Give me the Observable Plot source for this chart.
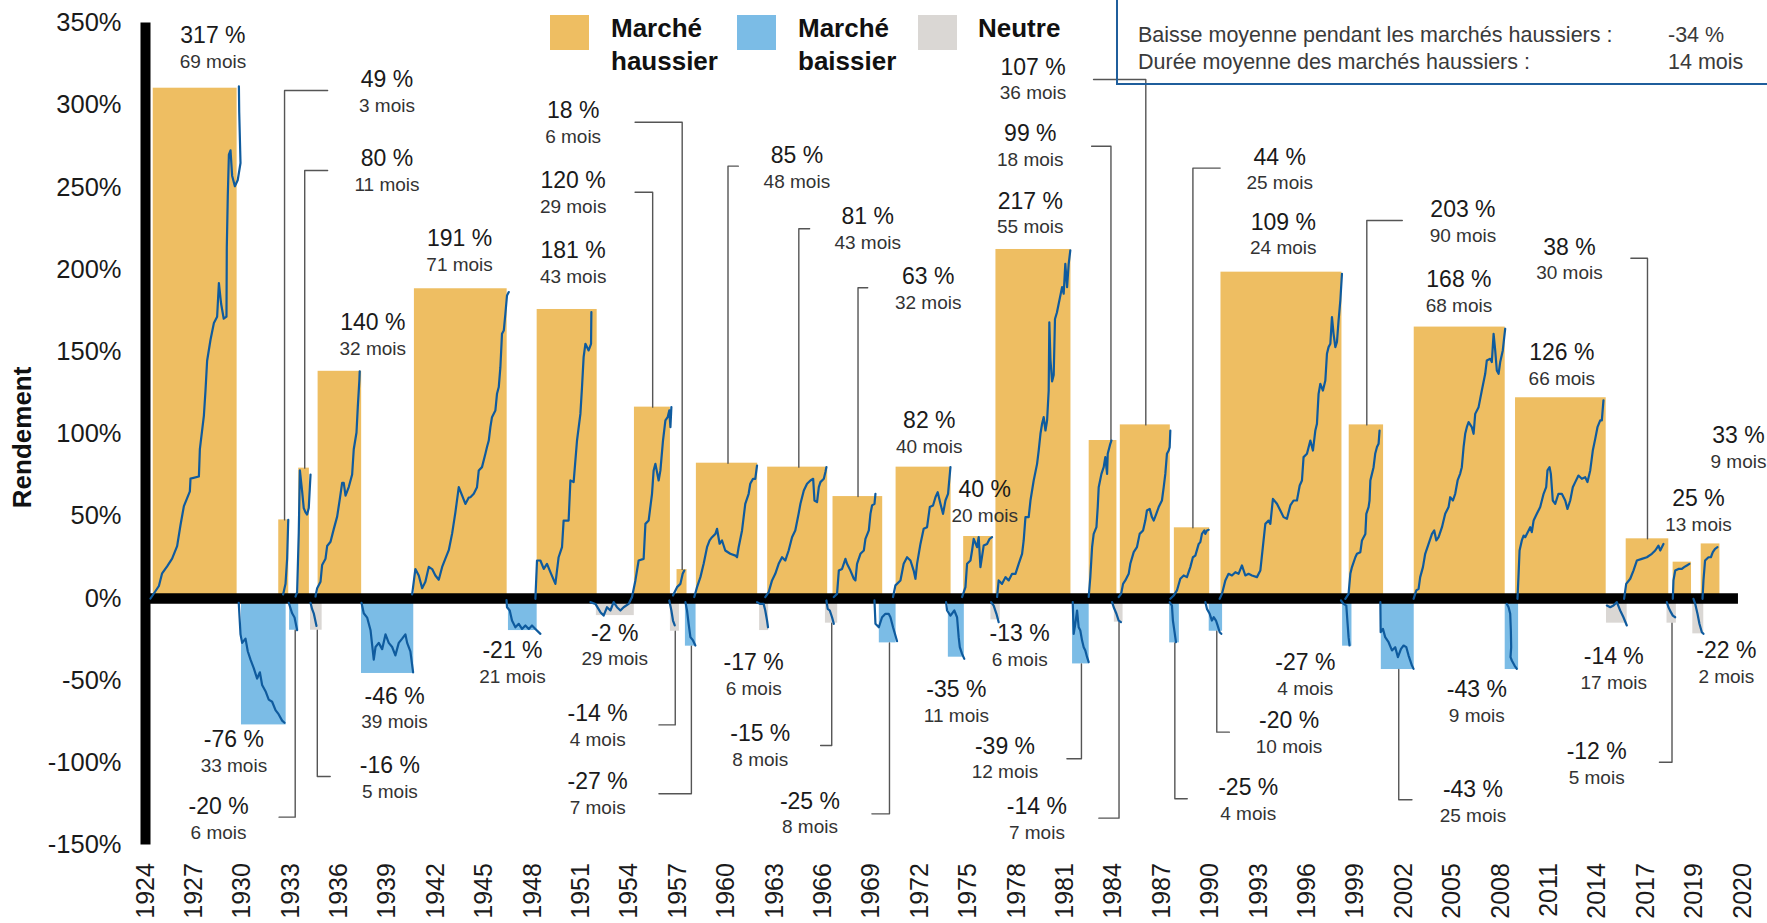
<!DOCTYPE html>
<html><head><meta charset="utf-8">
<script src="https://cdn.jsdelivr.net/npm/d3@7"></script>
<script src="https://cdn.jsdelivr.net/npm/@observablehq/plot@0.6"></script>
<style>
html,body{margin:0;padding:0;background:#fff;}
#wrap{position:relative;width:1767px;height:923px;overflow:hidden;font-family:"Liberation Sans",Arial,sans-serif;}
#wrap svg{position:absolute;left:0;top:0;}
.sw{position:absolute;width:39px;height:35px;top:15px;}
.lg{position:absolute;font-weight:bold;font-size:26px;line-height:33px;color:#111;top:12px;white-space:nowrap;}
#info{position:absolute;left:1116px;top:-4px;width:700px;height:87px;border-left:2.5px solid #1F5E9C;border-bottom:2.5px solid #1F5E9C;}
.it{position:absolute;font-size:21.5px;color:#3a3a3a;white-space:nowrap;line-height:24px;}
</style></head>
<body><div id="wrap"></div>
<script>
// ---------- data ----------
const xTickLabels = ["1924","1927","1930","1933","1936","1939","1942","1945","1948","1951","1954","1957","1960","1963","1966","1969","1972","1975","1978","1981","1984","1987","1990","1993","1996","1999","2002","2005","2008","2011","2014","2017","2019","2020"];
const yTicks = [-150,-100,-50,0,50,100,150,200,250,300,350];

// periods (axis position in years, value in %)
const periodType = ["h","b","h","b","h","n","h","b","h","b","h","n","h","n","h","b","h","n","h","n","h","b","h","b","h","n","h","b","h","n","h","b","h","b","h","b","h","b","h","b","h","n","h","n","h","n","h"];
const periodStart = [1924.48,1929.95,1932.26,1932.93,1933.50,1934.23,1934.70,1937.39,1940.67,1946.50,1948.28,1951.95,1954.31,1956.54,1956.95,1957.47,1958.15,1962.07,1962.57,1966.15,1966.62,1969.49,1970.53,1973.77,1974.72,1976.41,1976.72,1981.47,1982.50,1984.06,1984.43,1987.49,1987.78,1989.94,1990.67,1998.21,1998.62,2000.61,2002.65,2008.29,2008.93,2014.57,2015.79,2018.32,2018.70,2019.92,2020.44];
const periodEnd = [1929.68,1932.72,1932.88,1933.50,1934.16,1934.95,1937.40,1940.63,1946.42,1948.28,1952.00,1954.30,1956.54,1957.10,1957.57,1958.13,1961.95,1962.63,1966.29,1966.91,1969.70,1970.53,1973.94,1974.76,1976.54,1976.99,1981.37,1982.50,1984.22,1984.60,1987.53,1988.09,1989.97,1990.77,1998.17,1998.79,2000.75,2002.65,2008.29,2009.12,2014.55,2015.85,2018.43,2018.90,2019.84,2020.60,2021.60];
const periodValue = [310.4,-76.9,47.8,-19.3,79.3,-19.3,138.2,-45.6,188.4,-19.5,175.8,-10.4,116.4,-19.9,17.6,-29.0,82.3,-19.5,79.9,-15.0,62.0,-27.0,79.9,-35.7,37.7,-13.0,212.3,-39.8,96.1,-14.4,105.6,-27.0,43.0,-19.9,198.5,-29.0,105.6,-43.2,165.1,-43.2,122.1,-15.0,36.3,-15.0,22.1,-21.5,33.2];

// cumulative return paths inside each period [axis year, %]
const paths = [
 [[1924.31,0],[1924.83,7.6],[1925.03,15.3],[1925.34,19.6],[1925.65,24.2],[1925.96,31.9],[1926.17,44.7],[1926.38,56.2],[1926.75,65.2],[1926.79,72.9],[1927.31,74.2],[1927.37,90.8],[1927.62,111.3],[1927.72,126.6],[1927.82,144.6],[1928.03,157.4],[1928.24,167.6],[1928.44,171.4],[1928.55,191.9],[1928.69,179.1],[1928.85,170.2],[1929.02,171.4],[1929.04,213.7],[1929.10,244.4],[1929.17,270.0],[1929.27,272.6],[1929.37,257.2],[1929.54,250.8],[1929.72,254.6],[1929.89,264.9],[1929.81,295.6],[1929.79,311.5]],
 [[1929.78,-2.6],[1929.89,-21.8],[1929.99,-27.0],[1930.20,-24.4],[1930.34,-32.1],[1930.51,-37.2],[1930.71,-42.3],[1930.92,-48.7],[1931.09,-44.9],[1931.23,-52.6],[1931.44,-56.4],[1931.64,-61.5],[1931.85,-62.8],[1932.06,-67.9],[1932.26,-70.5],[1932.47,-74.3],[1932.62,-75.6]],
 [[1932.53,2.5],[1932.68,8.9],[1932.78,24.2],[1932.84,44.7],[1932.85,47.8]],
 [[1932.88,-2.6],[1933.09,-9.0],[1933.24,-11.6],[1933.40,-19.3]],
 [[1933.30,1.2],[1933.40,3.8],[1933.50,39.6],[1933.57,78.0],[1933.71,65.2],[1933.81,55.0],[1933.92,52.4],[1934.02,51.1],[1934.12,55.0],[1934.23,75.4]],
 [[1934.23,-2.6],[1934.33,-6.5],[1934.43,-9.0],[1934.60,-16.7]],
 [[1934.54,1.2],[1934.64,6.3],[1934.85,10.2],[1934.95,20.4],[1935.16,24.2],[1935.26,31.9],[1935.47,34.5],[1935.67,42.2],[1935.88,49.8],[1936.04,60.1],[1936.19,70.3],[1936.29,70.3],[1936.40,62.6],[1936.60,67.8],[1936.81,75.4],[1936.91,90.8],[1937.08,101.0],[1937.16,116.4],[1937.26,133.0],[1937.28,138.2]],
 [[1937.39,-2.6],[1937.53,-9.0],[1937.74,-11.6],[1937.95,-19.3],[1938.15,-37.2],[1938.26,-29.5],[1938.46,-27.0],[1938.67,-30.8],[1938.88,-21.8],[1939.08,-27.0],[1939.29,-29.5],[1939.49,-34.6],[1939.70,-27.0],[1939.91,-24.4],[1940.11,-21.8],[1940.22,-27.0],[1940.42,-32.1],[1940.59,-44.9]],
 [[1940.53,2.5],[1940.73,17.9],[1940.94,14.0],[1941.15,6.3],[1941.35,10.2],[1941.56,19.2],[1941.77,17.9],[1941.97,14.0],[1942.18,11.4],[1942.39,19.2],[1942.59,24.2],[1942.80,29.4],[1943.01,39.6],[1943.21,52.4],[1943.42,67.8],[1943.63,62.6],[1943.83,57.5],[1944.04,61.4],[1944.14,61.6],[1944.35,63.7],[1944.55,67.7],[1944.66,77.9],[1944.86,79.9],[1945.07,88.0],[1945.17,92.1],[1945.28,96.1],[1945.38,104.2],[1945.48,110.3],[1945.69,114.4],[1945.79,124.5],[1945.90,128.6],[1946.00,140.7],[1946.10,161.0],[1946.21,163.0],[1946.31,173.2],[1946.41,184.3],[1946.52,186.4]],
 [[1946.38,-1.0],[1946.41,-5.3],[1946.58,-7.3],[1946.72,-13.4],[1946.93,-17.5],[1947.14,-15.4],[1947.34,-18.5],[1947.55,-16.4],[1947.76,-18.5],[1947.96,-16.4],[1948.17,-18.5],[1948.48,-21.5]],
 [[1948.17,-0.2],[1948.27,23.1],[1948.48,23.1],[1948.69,18.0],[1948.89,21.1],[1949.10,16.0],[1949.41,8.9],[1949.61,25.1],[1949.82,31.2],[1949.92,47.4],[1950.23,47.4],[1950.34,71.8],[1950.54,70.8],[1950.75,96.1],[1950.96,112.3],[1951.06,128.6],[1951.16,146.8],[1951.27,154.9],[1951.47,150.9],[1951.62,154.9],[1951.64,174.2]],
 [[1951.58,-2.2],[1951.89,-3.3],[1952.20,-8.3],[1952.40,-10.4],[1952.61,-5.3],[1952.82,-7.3],[1953.02,-2.2],[1953.23,-5.3],[1953.44,-7.3],[1953.64,-5.3],[1953.95,-3.3],[1954.16,0.9]],
 [[1954.16,0.9],[1954.37,11.0],[1954.57,23.1],[1954.88,24.1],[1954.99,45.4],[1955.19,47.4],[1955.40,63.7],[1955.50,77.9],[1955.61,81.9],[1955.81,71.8],[1955.92,77.9],[1956.08,96.1],[1956.23,108.3],[1956.37,110.3],[1956.47,114.4],[1956.54,104.2],[1956.60,116.4]],
 [[1956.47,-1.2],[1956.60,-7.3],[1956.70,-13.4],[1956.81,-16.4]],
 [[1956.70,1.8],[1956.95,6.9],[1957.16,8.9],[1957.30,15.0],[1957.40,17.0]],
 [[1957.47,-2.2],[1957.57,-7.3],[1957.67,-15.4],[1957.78,-23.5],[1957.94,-25.5],[1958.09,-28.6]],
 [[1958.02,0.9],[1958.19,6.9],[1958.40,13.0],[1958.60,21.1],[1958.81,31.2],[1958.97,35.3],[1959.12,37.3],[1959.33,39.3],[1959.43,42.4],[1959.59,33.3],[1959.74,35.3],[1959.94,29.2],[1960.25,27.2],[1960.57,26.1],[1960.67,25.1],[1960.77,31.2],[1960.98,41.4],[1961.18,57.6],[1961.39,63.7],[1961.49,69.8],[1961.66,72.8],[1961.80,72.8],[1961.91,80.9]],
 [[1961.91,-2.2],[1962.11,-3.3],[1962.32,-3.3],[1962.42,-7.3],[1962.53,-13.4],[1962.59,-17.5]],
 [[1962.42,0.9],[1962.63,3.9],[1962.84,11.0],[1963.04,15.0],[1963.25,21.1],[1963.46,25.1],[1963.66,23.1],[1963.87,29.2],[1964.08,37.3],[1964.28,41.4],[1964.49,51.7],[1964.60,57.6],[1964.81,65.7],[1965.01,69.8],[1965.22,71.8],[1965.39,72.8],[1965.47,59.6],[1965.63,58.6],[1965.74,67.7],[1965.84,70.8],[1966.05,72.8],[1966.15,76.9],[1966.21,79.9]],
 [[1966.21,-1.2],[1966.29,-6.3],[1966.42,-7.3],[1966.56,-11.4],[1966.67,-15.4]],
 [[1966.67,0.9],[1966.87,2.8],[1966.98,17.0],[1967.18,18.0],[1967.39,24.1],[1967.49,21.1],[1967.70,17.0],[1967.91,12.0],[1968.01,11.0],[1968.11,21.1],[1968.32,27.2],[1968.53,29.2],[1968.63,36.3],[1968.84,41.4],[1968.94,51.5],[1969.04,56.6],[1969.19,57.6],[1969.25,63.7]],
 [[1969.19,-1.2],[1969.25,-15.4],[1969.46,-17.5],[1969.66,-11.4],[1969.87,-9.3],[1970.07,-9.3],[1970.18,-11.4],[1970.34,-17.5],[1970.49,-22.5],[1970.59,-26.0]],
 [[1970.34,0.9],[1970.49,8.0],[1970.80,11.0],[1971.00,21.1],[1971.21,25.1],[1971.42,23.1],[1971.62,17.0],[1971.73,12.0],[1971.83,21.1],[1972.04,33.2],[1972.24,42.4],[1972.45,43.4],[1972.62,55.6],[1972.82,56.6],[1972.97,61.6],[1973.11,64.7],[1973.28,57.6],[1973.44,51.5],[1973.59,59.6],[1973.75,63.7],[1973.90,79.9]],
 [[1973.63,-2.2],[1973.69,-7.3],[1973.90,-10.4],[1974.14,-7.3],[1974.31,-11.4],[1974.41,-23.5],[1974.48,-29.6],[1974.62,-33.7],[1974.76,-36.7]],
 [[1974.62,0.9],[1974.83,6.9],[1974.93,21.1],[1975.14,23.1],[1975.24,29.2],[1975.34,36.3],[1975.55,31.2],[1975.65,37.3],[1975.76,19.1],[1975.96,32.2],[1976.17,33.2],[1976.33,36.3],[1976.48,37.3]],
 [[1976.42,-2.2],[1976.58,-4.3],[1976.75,-9.3],[1976.89,-14.4]],
 [[1976.79,0.9],[1976.89,11.0],[1977.10,8.9],[1977.31,13.0],[1977.51,11.0],[1977.72,15.0],[1977.93,15.0],[1978.13,21.1],[1978.34,27.2],[1978.44,35.3],[1978.55,49.5],[1978.75,49.5],[1978.86,59.6],[1979.06,71.8],[1979.27,81.9],[1979.37,90.0],[1979.48,100.2],[1979.58,106.3],[1979.68,110.3],[1979.79,102.2],[1979.89,108.3],[1979.99,126.5],[1980.03,168.0],[1980.10,145.0],[1980.20,132.0],[1980.30,136.0],[1980.38,170.0],[1980.50,174.0],[1980.61,179.3],[1980.82,189.4],[1980.92,185.4],[1981.02,203.6],[1981.13,189.4],[1981.23,203.6],[1981.33,211.7]],
 [[1981.48,-2.2],[1981.54,-21.5],[1981.64,-15.4],[1981.75,-7.3],[1981.85,-17.5],[1981.95,-19.5],[1982.06,-25.6],[1982.16,-29.6],[1982.26,-31.6],[1982.37,-35.7],[1982.47,-38.7]],
 [[1982.47,0.9],[1982.57,13.0],[1982.68,31.2],[1982.78,39.3],[1982.95,43.4],[1983.03,55.6],[1983.09,67.7],[1983.26,75.8],[1983.40,79.9],[1983.50,86.0],[1983.61,75.8],[1983.65,88.0],[1983.81,94.1],[1983.88,96.1]],
 [[1983.92,-2.2],[1984.02,-5.3],[1984.19,-9.3],[1984.33,-13.4],[1984.47,-14.4]],
 [[1984.33,0.9],[1984.48,2.8],[1984.60,8.9],[1984.74,11.0],[1984.95,15.0],[1985.05,21.1],[1985.26,28.2],[1985.46,31.2],[1985.63,39.3],[1985.84,41.4],[1985.98,47.4],[1986.08,53.5],[1986.25,54.5],[1986.39,49.5],[1986.50,47.4],[1986.66,51.5],[1986.81,55.6],[1987.01,59.6],[1987.12,67.7],[1987.22,75.8],[1987.32,88.0],[1987.43,90.0],[1987.49,92.1],[1987.53,102.2]],
 [[1987.49,-2.2],[1987.63,-4.3],[1987.69,-13.4],[1987.78,-19.5],[1987.88,-26.6]],
 [[1987.53,-0.2],[1987.74,1.8],[1987.94,4.9],[1988.15,12.0],[1988.36,14.0],[1988.56,13.0],[1988.77,19.1],[1988.93,25.1],[1989.08,26.1],[1989.29,33.2],[1989.39,34.3],[1989.49,39.3],[1989.64,41.4],[1989.70,39.3],[1989.80,41.4],[1989.91,41.8]],
 [[1989.70,-2.2],[1989.80,-6.3],[1989.97,-9.3],[1990.11,-13.4],[1990.22,-11.4],[1990.36,-13.4],[1990.46,-16.4],[1990.59,-20.5],[1990.69,-21.5]],
 [[1990.59,-0.2],[1990.73,2.8],[1990.94,11.0],[1991.14,15.0],[1991.35,14.0],[1991.56,16.0],[1991.76,15.0],[1991.97,20.1],[1992.18,14.0],[1992.38,15.0],[1992.59,14.0],[1992.90,13.0],[1993.11,17.0],[1993.31,35.3],[1993.42,45.4],[1993.62,47.4],[1993.73,45.4],[1993.89,60.6],[1994.14,57.6],[1994.35,53.5],[1994.55,49.5],[1994.76,48.5],[1994.97,56.6],[1995.17,59.6],[1995.38,59.6],[1995.55,68.7],[1995.69,71.8],[1995.79,86.0],[1996.00,88.0],[1996.21,96.1],[1996.37,90.0],[1996.52,102.2],[1996.62,106.3],[1996.72,124.5],[1996.83,130.6],[1996.99,126.5],[1997.14,132.6],[1997.24,148.9],[1997.34,152.9],[1997.45,154.9],[1997.55,171.2],[1997.65,161.0],[1997.76,152.9],[1997.86,156.0],[1997.96,169.1],[1998.07,181.3],[1998.17,197.5]],
 [[1998.11,-1.2],[1998.27,-3.3],[1998.44,-4.3],[1998.52,-15.4],[1998.58,-23.5],[1998.64,-28.6]],
 [[1998.38,-0.2],[1998.58,2.8],[1998.69,15.0],[1998.79,19.1],[1999.00,25.1],[1999.10,27.2],[1999.31,28.2],[1999.41,35.3],[1999.62,39.3],[1999.68,51.5],[1999.82,55.6],[1999.88,59.6],[1999.93,71.8],[2000.03,75.8],[2000.13,79.9],[2000.23,88.0],[2000.34,92.1],[2000.44,94.1],[2000.50,102.2]],
 [[2000.55,-2.2],[2000.57,-20.5],[2000.71,-18.5],[2000.85,-23.5],[2001.06,-26.6],[2001.27,-31.6],[2001.47,-29.6],[2001.64,-35.7],[2001.83,-30.6],[2001.99,-28.6],[2002.16,-29.6],[2002.30,-34.7],[2002.51,-40.8],[2002.61,-42.8]],
 [[2002.61,-0.2],[2002.78,4.9],[2002.92,5.9],[2003.02,13.0],[2003.19,19.1],[2003.33,27.2],[2003.54,33.2],[2003.75,39.3],[2003.89,41.4],[2004.02,35.3],[2004.16,37.3],[2004.37,43.4],[2004.57,51.5],[2004.78,55.6],[2004.88,61.6],[2005.05,59.6],[2005.19,63.7],[2005.34,71.8],[2005.50,76.0],[2005.60,79.9],[2005.71,92.1],[2005.81,100.2],[2005.91,104.2],[2006.02,107.3],[2006.22,104.2],[2006.33,100.2],[2006.43,112.3],[2006.64,116.4],[2006.84,126.5],[2007.05,136.7],[2007.15,144.8],[2007.36,145.8],[2007.46,143.8],[2007.57,161.0],[2007.67,150.9],[2007.77,138.7],[2007.88,136.7],[2007.98,143.8],[2008.14,150.9],[2008.23,159.0],[2008.29,164.1]],
 [[2008.39,-3.3],[2008.50,-5.3],[2008.60,-9.3],[2008.64,-19.5],[2008.66,-29.6],[2008.62,-35.7],[2008.70,-37.7],[2008.87,-40.8],[2009.01,-42.8]],
 [[2009.05,-0.2],[2009.12,15.0],[2009.18,29.2],[2009.32,35.3],[2009.43,38.3],[2009.53,37.3],[2009.74,41.4],[2009.84,43.4],[2009.94,40.4],[2010.05,47.4],[2010.25,51.5],[2010.46,55.6],[2010.67,63.7],[2010.83,67.7],[2010.91,77.9],[2011.04,79.9],[2011.12,75.8],[2011.24,59.6],[2011.39,57.6],[2011.59,63.7],[2011.80,63.7],[2012.01,59.6],[2012.15,54.5],[2012.32,59.6],[2012.48,67.7],[2012.63,70.8],[2012.83,74.8],[2013.04,72.8],[2013.25,73.8],[2013.39,70.8],[2013.56,77.9],[2013.72,90.0],[2013.87,97.1],[2014.01,104.2],[2014.18,108.3],[2014.28,108.3],[2014.38,120.5]],
 [[2014.59,-4.3],[2014.80,-5.3],[2015.00,-4.3],[2015.21,-2.2],[2015.42,-7.3],[2015.62,-11.4],[2015.83,-16.4]],
 [[2015.66,-0.2],[2015.79,8.9],[2016.04,12.0],[2016.24,17.0],[2016.45,23.1],[2016.76,24.1],[2017.07,25.1],[2017.38,27.2],[2017.59,29.2],[2017.79,32.2],[2017.90,29.2],[2018.10,33.2]],
 [[2018.31,-2.2],[2018.41,-5.3],[2018.56,-8.3],[2018.68,-10.4],[2018.83,-11.4]],
 [[2018.68,-0.2],[2018.72,11.0],[2018.83,17.0],[2019.03,18.0],[2019.24,18.0],[2019.38,19.1],[2019.55,20.1],[2019.71,21.1]],
 [[2019.96,-0.2],[2020.07,-3.3],[2020.21,-9.3],[2020.33,-15.4],[2020.48,-20.5],[2020.58,-21.5]],
 [[2020.52,-0.2],[2020.58,11.0],[2020.68,23.1],[2020.89,25.1],[2021.04,25.1],[2021.16,28.2],[2021.30,30.2],[2021.45,31.2]]
];

// annotations: value text, duration text, position [axis year, %]
const annValue = ["317 %","49 %","80 %","140 %","191 %","18 %","120 %","181 %","85 %","81 %","63 %","82 %","40 %","107 %","99 %","217 %","44 %","109 %","203 %","168 %","38 %","126 %","25 %","33 %",
  "-76 %","-20 %","-16 %","-46 %","-21 %","-2 %","-14 %","-27 %","-17 %","-15 %","-25 %","-35 %","-13 %","-39 %","-14 %","-25 %","-20 %","-27 %","-43 %","-43 %","-14 %","-12 %","-22 %"];
const annMonths = ["69 mois","3 mois","11 mois","32 mois","71 mois","6 mois","29 mois","43 mois","48 mois","43 mois","32 mois","40 mois","20 mois","36 mois","18 mois","55 mois","25 mois","24 mois","90 mois","68 mois","30 mois","66 mois","13 mois","9 mois",
  "33 mois","6 mois","5 mois","39 mois","21 mois","29 mois","4 mois","7 mois","6 mois","8 mois","8 mois","11 mois","6 mois","12 mois","7 mois","4 mois","10 mois","4 mois","25 mois","9 mois","17 mois","5 mois","2 mois"];
const annX = [1928.18,1938.97,1938.97,1938.09,1943.47,1950.51,1950.51,1950.51,1964.38,1968.77,1972.52,1972.59,1976.02,1979.02,1978.85,1978.85,1994.31,1994.53,2005.67,2005.42,2012.27,2011.80,2020.27,2022.75,
  1929.48,1928.53,1939.15,1939.44,1946.75,1953.09,1952.03,1952.03,1961.70,1962.11,1965.19,1974.27,1978.19,1977.28,1979.26,1992.36,1994.89,1995.90,2006.29,2006.53,2015.02,2013.96,2022.00];
const annY = [342.5,315.7,267.5,167.6,218.8,296.8,254.3,211.7,269.5,232.4,195.9,108.3,66.1,323.2,282.7,241.7,268.4,228.9,236.4,193.9,213.7,149.5,60.6,99.1,
  -86.0,-126.9,-101.6,-59.4,-31.6,-21.1,-70.1,-111.3,-39.3,-82.3,-123.3,-55.5,-21.5,-89.8,-126.9,-115.1,-74.2,-39.3,-116.4,-55.5,-35.3,-93.1,-31.6];

// leader lines: period index (0-based), elbow x, elbow y, end x
const leaderPeriod = [2,4,14,12,16,18,20,30,28,32,36,42, 3,5,13,15,19,21,27,29,31,33,37,43];
const leaderX = [1932.62,1933.87,1957.27,1955.44,1960.11,1964.50,1968.17,1986.01,1983.85,1988.93,1999.71,2017.11, 1933.28,1934.65,1956.84,1957.84,1966.54,1970.12,1982.02,1984.35,1987.81,1990.41,2001.69,2018.63];
const leaderY = [309.0,260.3,289.7,247.1,263.0,224.9,189.0,315.7,275.1,261.8,229.9,207.0, -133.0,-108.3,-76.9,-118.8,-89.4,-131.0,-97.5,-133.6,-121.8,-81.3,-122.4,-99.6];
const leaderEnd = [1935.29,1935.29,1954.35,1954.35,1960.75,1965.17,1968.77,1982.77,1982.65,1990.62,2001.91,2016.08, 1932.28,1935.45,1955.83,1955.83,1965.85,1969.03,1981.12,1983.10,1988.58,1991.19,2002.51,2017.85];

const legendNames = ["Marché\nhaussier","Marché\nbaissier","Neutre"];
const infoLabels = ["Baisse moyenne pendant les marchés haussiers :","Durée moyenne des marchés haussiers :"];
const infoValues = ["-34 %","14 mois"];

// ---------- build ----------
const colors = {h:"#EEBE62", b:"#7BBCE6", n:"#DAD7D4"};
const periods = periodType.map((t,i)=>({type:t, start:periodStart[i], end:periodEnd[i], value:periodValue[i]}));
const lineData = paths.flatMap((pts,k)=>pts.map(([x,y])=>({k,x,y})));
const anns = annValue.map((v,i)=>({v, m:annMonths[i], x:annX[i], y:annY[i]}));
const leaders = leaderPeriod.flatMap((p,i)=>[
  {k:i, x:leaderX[i], y:periodValue[p]},
  {k:i, x:leaderX[i], y:leaderY[i]},
  {k:i, x:leaderEnd[i], y:leaderY[i]}
]);
const tickPos = xTickLabels.map((_,i)=>1924+3*i);
const tickMap = new Map(tickPos.map((p,i)=>[p,xTickLabels[i]]));

const chart = Plot.plot({
  width:1767, height:923,
  marginLeft:145, marginRight:25, marginTop:22.6, marginBottom:78.4,
  x:{domain:[1924,2023]},
  y:{domain:[-150,350]},
  color:{domain:["h","b","n"], range:[colors.h,colors.b,colors.n]},
  style:{fontFamily:"'Liberation Sans', Arial, sans-serif", color:"#1a1a1a", background:"transparent"},
  marks:[
    Plot.rect(periods,{x1:"start", x2:"end", y1:0, y2:"value", fill:"type"}),
    Plot.line(leaders,{x:"x", y:"y", z:"k", stroke:"#555", strokeWidth:1.4}),
    Plot.ruleY([0],{x1:1924, x2:2022.75, stroke:"black", strokeWidth:10.5}),
    Plot.ruleX([1924],{y1:-150, y2:350, stroke:"black", strokeWidth:10}),
    Plot.line(lineData,{x:"x", y:"y", z:"k", stroke:"#0F5B9E", strokeWidth:2.2, strokeLinejoin:"round"}),
    Plot.text(anns,{x:"x", y:"y", text:"v", fontSize:23, fill:"#1a1a1a"}),
    Plot.text(anns,{x:"x", y:"y", text:"m", fontSize:19, fill:"#333", dy:26}),
    Plot.axisY({ticks:yTicks, tickFormat:d=>d+"%", tickSize:0, tickPadding:24, fontSize:25.5, label:null}),
    Plot.axisX({ticks:tickPos, tickFormat:d=>tickMap.get(d), tickRotate:-90, tickSize:0, tickPadding:18, fontSize:25, label:null}),
    Plot.text([98],{y:d=>d, frameAnchor:"left", textAnchor:"middle", dx:-123, rotate:-90, text:()=>"Rendement", fontWeight:"bold", fontSize:26, fill:"#111"})
  ]
});
const wrap = document.getElementById("wrap");
wrap.appendChild(chart);

// legend (HTML overlay)
const swLeft = [550, 737, 918];
const txLeft = [611, 798, 978];
const legendColors = [colors.h, colors.b, colors.n];
legendNames.forEach((name,i)=>{
  const s = document.createElement("div"); s.className="sw"; s.style.left=swLeft[i]+"px"; s.style.background=legendColors[i]; wrap.appendChild(s);
  const t = document.createElement("div"); t.className="lg"; t.style.left=txLeft[i]+"px"; t.innerHTML=name.replace("\n","<br>"); wrap.appendChild(t);
});
// info box
const box = document.createElement("div"); box.id="info"; wrap.appendChild(box);
infoLabels.forEach((txt,i)=>{
  const a = document.createElement("div"); a.className="it"; a.style.left="1138px"; a.style.top=(23+i*26.7)+"px"; a.textContent=txt; wrap.appendChild(a);
  const b = document.createElement("div"); b.className="it"; b.style.left="1668px"; b.style.top=(23+i*26.7)+"px"; b.textContent=infoValues[i]; wrap.appendChild(b);
});
</script>
</body></html>
